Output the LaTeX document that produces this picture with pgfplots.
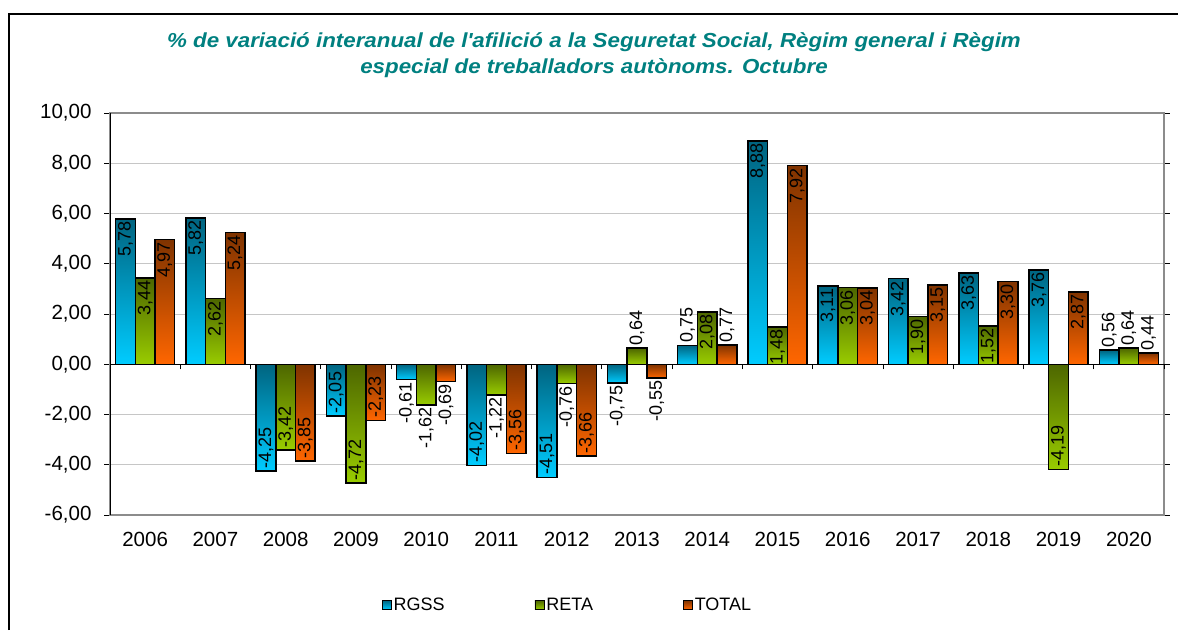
\documentclass[border=0pt]{standalone}
\usepackage{pgfplots}
\pgfplotsset{compat=1.18}
\usepackage{pgfplotstable}
\usepackage{fontspec}
\setmainfont{Liberation Sans}
\newfontfamily\titlefont{Liberation Sans}[FakeStretch=1.1]

\definecolor{titol}{RGB}{0,128,128}
\definecolor{rgssTop}{RGB}{0,100,128}
\definecolor{rgssBot}{RGB}{0,204,255}
\definecolor{retaTop}{RGB}{77,102,0}
\definecolor{retaBot}{RGB}{153,204,0}
\definecolor{totTop}{RGB}{127,51,0}
\definecolor{totBot}{RGB}{255,102,0}

% x = index of year, a = anchor of the rotated label
\pgfplotstableread{
x  rgss  ra    reta  ea    total ta
0  5.78  east  3.44  east  4.97  east
1  5.82  east  2.62  east  5.24  east
2  -4.25 west  -3.42 west  -3.85 west
3  -2.05 west  -4.72 west  -2.23 west
4  -0.61 east  -1.62 east  -0.69 east
5  -4.02 west  -1.22 east  -3.56 west
6  -4.51 west  -0.76 east  -3.66 west
7  -0.75 east  0.64  west  -0.55 east
8  0.75  west  2.08  east  0.77  west
9  8.88  east  1.48  east  7.92  east
10 3.11  east  3.06  east  3.04  east
11 3.42  east  1.90  east  3.15  east
12 3.63  east  1.52  east  3.30  east
13 3.76  east  -4.19 west  2.87  east
14 0.56  west  0.64  west  0.44  west
}\datos

\begin{document}
\begin{tikzpicture}
\useasboundingbox (0,0) rectangle (1178pt,630pt);
\draw[black, line width=2.5pt] (9pt,0) -- (9pt,616pt) -- (1180pt,616pt);

\node[font=\titlefont\fontsize{20.3}{26}\selectfont\bfseries\itshape, text=titol, align=center]
  at (594pt,575pt) {\% de variació interanual de l\textquotesingle afilició a la Seguretat Social, Règim general i Règim\\especial de treballadors autònoms. Octubre};

\begin{axis}[
  at={(110pt,115pt)}, anchor=south west,
  scale only axis, width=1054pt, height=402pt,
  ybar=0pt, bar width=19.7pt,
  xmin=-0.5, xmax=14.5, ymin=-6, ymax=10,
  xtick={0,...,14},
  xticklabels={2006,2007,2008,2009,2010,2011,2012,2013,2014,2015,2016,2017,2018,2019,2020},
  ytick={-6,-4,...,10},
  tick align=outside, major tick length=6pt,
  x tick style={draw=none},
  y tick style={black, line width=0.8pt},
  ymajorgrids, grid style={gray!45, line width=0.8pt},
  axis line style={draw=gray!90, line width=1.4pt},
  /pgf/number format/.cd, fixed, fixed zerofill, precision=2, use comma, assume math mode=true,
  /pgfplots/.cd,
  ticklabel style={font=\fontsize{20.5}{22}\selectfont},
  xticklabel style={yshift=-8pt},
  yticklabel style={xshift=-9pt},
  point meta=explicit symbolic,
  nodes near coords={\pgfmathprintnumber{\pgfkeysvalueof{/data point/y}}},
  every node near coord/.append style={font=\fontsize{18}{20}\selectfont, rotate=90, inner sep=2pt, anchor=\pgfplotspointmeta},
  legend columns=3,
  legend style={at={(0.434,-0.224)}, anchor=center, draw=none,
    font=\fontsize{18}{20}\selectfont,
    /tikz/every even column/.append style={column sep=88pt}},
  legend image code/.code={\draw[#1, line width=0.8pt] (0pt,-4.5pt) rectangle (9pt,4.5pt);},
]
% one plot per bar, so that each bar gets its own gradient
\pgfplotsinvokeforeach{0,...,14}{
  \addplot[forget plot, restrict x to domain=#1:#1, bar shift=-19.7pt, draw=black, line width=1.5pt,
    top color=rgssTop, bottom color=rgssBot]
    table[x=x, y=rgss, meta=ra] {\datos};
  \addplot[forget plot, restrict x to domain=#1:#1, bar shift=0pt, draw=black, line width=1.5pt,
    top color=retaTop, bottom color=retaBot]
    table[x=x, y=reta, meta=ea] {\datos};
  \addplot[forget plot, restrict x to domain=#1:#1, bar shift=19.7pt, draw=black, line width=1.5pt,
    top color=totTop, bottom color=totBot]
    table[x=x, y=total, meta=ta] {\datos};
}
\addlegendimage{draw=black, top color=rgssTop, bottom color=rgssBot}
\addlegendentry{RGSS}
\addlegendimage{draw=black, top color=retaTop, bottom color=retaBot}
\addlegendentry{RETA}
\addlegendimage{draw=black, top color=totTop, bottom color=totBot}
\addlegendentry{TOTAL}
\end{axis}

% zero line with its ticks, and the black left axis
\begin{axis}[
  at={(110pt,115pt)}, anchor=south west,
  scale only axis, width=1054pt, height=402pt,
  xmin=-0.5, xmax=14.5, ymin=-6, ymax=10,
  axis x line*=middle, axis y line*=left,
  axis line style={black, line width=0.8pt},
  xtick={-0.5,0.5,...,14.5}, xticklabels={}, ytick=\empty,
  tick align=outside, major tick length=5pt,
  x tick style={black, line width=0.8pt},
]
\end{axis}
\end{tikzpicture}
\end{document}
